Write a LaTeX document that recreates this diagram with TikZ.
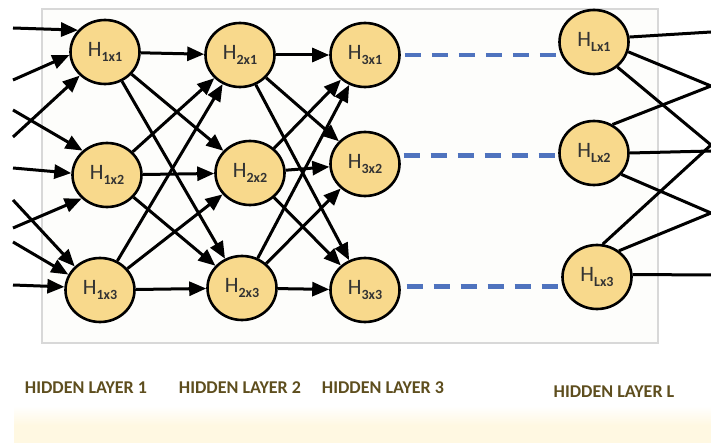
\documentclass[tikz,border=0pt]{standalone}
\usepackage{fontspec}
\setmainfont{Carlito}
\usetikzlibrary{shapes.geometric,arrows.meta,calc}
\definecolor{nodefill}{HTML}{F8D98C}
\definecolor{textgray}{HTML}{333333}
\definecolor{dashblue}{HTML}{4F73BE}
\definecolor{boxgray}{HTML}{D8D8D8}
\definecolor{boxfill}{HTML}{FDFDFB}
\definecolor{labelbrown}{HTML}{5E4E1E}
\definecolor{bandcream}{HTML}{FFF8E2}
\newcommand\neuronlabel[1]{H\raisebox{-0.2em}{\fontsize{14}{14}\selectfont\bfseries #1}}
\begin{document}
\begin{tikzpicture}[x=1pt,y=-1pt,
  neuron/.style={ellipse, draw=black, line width=2.6pt, fill=nodefill,
    minimum width=69pt, minimum height=64pt, inner sep=0pt, text=textgray,
    font=\fontsize{22}{22}\selectfont},
  link/.style={line width=3pt, -{Triangle[length=17pt,width=14pt]}},
  wire/.style={line width=3pt},
  dashlink/.style={draw=dashblue, line width=4.5pt, dash pattern=on 16pt off 11pt},
  layerlabel/.style={font=\fontsize{18}{18}\selectfont\bfseries, text=labelbrown}
]
\useasboundingbox (0,0) rectangle (711,443);
\fill[white] (0,0) rectangle (711,443);

% cream band along the bottom
\shade[top color=white, bottom color=bandcream] (14,406) rectangle (711,425);
\fill[bandcream] (14,425) rectangle (711,443);

% frame round the hidden layers
\draw[draw=boxgray, line width=1.3pt, fill=boxfill] (42,9) rectangle (658,343);

% neurons
\node[neuron] (H1x1) at (105,52)  {\neuronlabel{1x1}};
\node[neuron] (H1x2) at (107,175) {\neuronlabel{1x2}};
\node[neuron] (H1x3) at (100,290) {\neuronlabel{1x3}};
\node[neuron] (H2x1) at (240,55)  {\neuronlabel{2x1}};
\node[neuron] (H2x2) at (250,173) {\neuronlabel{2x2}};
\node[neuron] (H2x3) at (242,288) {\neuronlabel{2x3}};
\node[neuron] (H3x1) at (365,55)  {\neuronlabel{3x1}};
\node[neuron] (H3x2) at (365,164) {\neuronlabel{3x2}};
\node[neuron] (H3x3) at (365,290) {\neuronlabel{3x3}};
\node[neuron] (HLx1) at (594,42)  {\neuronlabel{Lx1}};
\node[neuron] (HLx2) at (594,153) {\neuronlabel{Lx2}};
\node[neuron] (HLx3) at (597,277) {\neuronlabel{Lx3}};

% incoming signals
\coordinate (in1) at (13,28);
\coordinate (in2) at (13,80);
\coordinate (in3) at (13,137);
\coordinate (in4) at (13,110);
\coordinate (in5) at (13,168);
\coordinate (in6) at (13,228);
\coordinate (in7) at (13,200);
\coordinate (in8) at (13,242);
\coordinate (in9) at (13,285);
\draw[link] (in1) -- (H1x1.141);
\draw[link] (in2) -- (H1x1.185);
\draw[link] (in3) -- (H1x1.223);
\draw[link] (in4) -- (H1x2.135);
\draw[link] (in5) -- (H1x2.177);
\draw[link] (in6) -- (H1x2.223);
\draw[link] (in7) -- (H1x3.137);
\draw[link] (in8) -- (H1x3.154);
\draw[link] (in9) -- (H1x3.175);

% layer 1 to layer 2, layer 2 to layer 3
\foreach \a in {1,2,3}{
  \foreach \b in {1,2,3}{
    \draw[link] (H1x\a) -- (H2x\b);
    \draw[link] (H2x\a) -- (H3x\b);
  }
}

% skipped layers
\draw[dashlink] ([xshift=4pt]H3x1.east) -- ([xshift=4pt]H3x1.east -| HLx1.west);
\draw[dashlink] ([xshift=4pt]H3x2.14) -- ([xshift=4pt]H3x2.14 -| HLx2.west);
\draw[dashlink] ([xshift=6pt]H3x3.6) -- ([xshift=6pt]H3x3.6 -| HLx3.west);

% outgoing signals
\coordinate (o1) at (711,32);
\coordinate (o2) at (711,86);
\coordinate (o3) at (711,145);
\coordinate (o4) at (711,151);
\coordinate (o5) at (711,213);
\coordinate (o6) at (711,275);
\draw[wire] (HLx1.8)   -- (o1);
\draw[wire] (HLx1.-16) -- (o2);
\draw[wire] (HLx1.-47) -- (o3);
\draw[wire] (HLx2.57)  -- (o2);
\draw[wire] (HLx2.0)   -- (o4);
\draw[wire] (HLx2.-38) -- (o5);
\draw[wire] (HLx3.80)  -- (o3);
\draw[wire] (HLx3.50)  -- (o5);
\draw[wire] (HLx3.4)   -- (o6);

% layer captions
\node[layerlabel] (cap1) at (86,388)  {HIDDEN LAYER 1};
\node[layerlabel] (cap2) at (240,388) {HIDDEN LAYER 2};
\node[layerlabel] (cap3) at (383,388) {HIDDEN LAYER 3};
\node[layerlabel] (capL) at (614,392) {HIDDEN LAYER L};
\end{tikzpicture}
\end{document}
